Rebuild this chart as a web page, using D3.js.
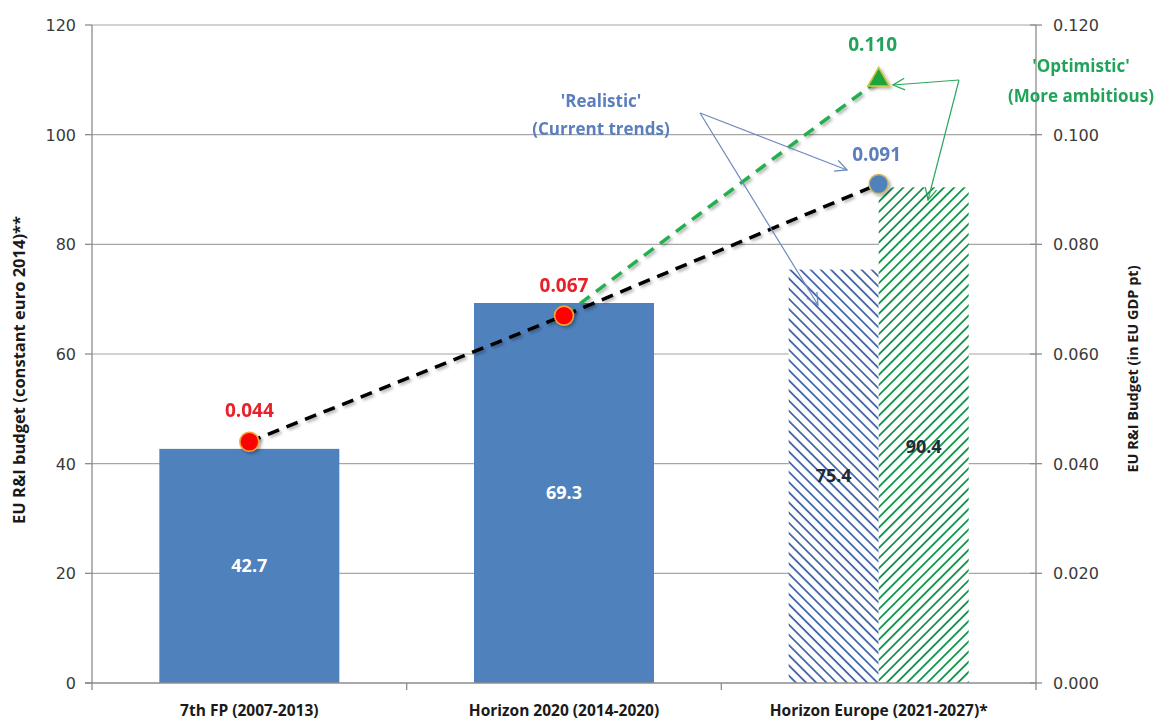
<!DOCTYPE html>
<html><head><meta charset="utf-8">
<script src="https://cdn.jsdelivr.net/npm/d3@7"></script>
<style>body{margin:0;background:#fff}svg{display:block}</style>
</head><body>
<svg id="c" width="1157" height="723"></svg>
<script>
const categories = ["7th FP (2007-2013)", "Horizon 2020 (2014-2020)", "Horizon Europe (2021-2027)*"];
const budgetActual = [42.7, 69.3, null];
const budgetRealistic = [null, null, 75.4];
const budgetOptimistic = [null, null, 90.4];
const gdpRealistic = [0.044, 0.067, 0.091];
const gdpOptimistic = [null, 0.067, 0.110];
const leftTicks = [0, 20, 40, 60, 80, 100, 120];
const rightTicks = [0, 0.02, 0.04, 0.06, 0.08, 0.10, 0.12];

const svg = d3.select("#c");
const L = 92, R = 1036, T = 25, B = 683;
const x = d3.scaleBand().domain(categories).range([L, R]).padding(0);
const yL = d3.scaleLinear().domain([0, 120]).range([B, T]);
const yR = d3.scaleLinear().domain([0, 0.12]).range([B, T]);
const barW = x.bandwidth() * 0.572;
const cx = c => x(c) + x.bandwidth() / 2;

const defs = svg.append("defs");
function hatch(id, color, angle) {
  const p = defs.append("pattern").attr("id", id).attr("patternUnits", "userSpaceOnUse")
    .attr("width", 7.2).attr("height", 7.2).attr("patternTransform", `rotate(${angle})`);
  p.append("rect").attr("width", 7.2).attr("height", 7.2).attr("fill", "#fff");
  p.append("line").attr("x1", 0).attr("y1", 0).attr("x2", 0).attr("y2", 7.2)
    .attr("stroke", color).attr("stroke-width", 3.6);
}
hatch("hb", "#4468ab", -45);
hatch("hg", "#12944a", 45);
const sh = defs.append("filter").attr("id", "sh").attr("x", "-20%").attr("y", "-20%").attr("width", "150%").attr("height", "150%");
sh.append("feDropShadow").attr("dx", 2).attr("dy", 2).attr("stdDeviation", 1.5).attr("flood-color", "#000").attr("flood-opacity", 0.3);
function arrowMarker(id, color) {
  defs.append("marker").attr("id", id).attr("viewBox", "0 0 12 12").attr("refX", 11).attr("refY", 6)
    .attr("markerWidth", 14).attr("markerHeight", 14).attr("markerUnits", "userSpaceOnUse").attr("orient", "auto")
    .append("path").attr("d", "M1,1 L11,6 L1,11").attr("fill", "none").attr("stroke", color).attr("stroke-width", 1.1);
}
arrowMarker("ab", "#6d88bd");
arrowMarker("ag", "#2aa85c");

// gridlines
svg.append("g").selectAll("line").data(leftTicks.filter(d => d > 0)).join("line")
  .attr("x1", L).attr("x2", R).attr("y1", d => yL(d)).attr("y2", d => yL(d))
  .attr("stroke", "#a6a6a6").attr("stroke-width", 1.2);

// bars
const g = svg.append("g");
categories.forEach((c, i) => {
  if (budgetActual[i] != null) {
    g.append("rect").attr("x", cx(c) - barW / 2).attr("width", barW)
      .attr("y", yL(budgetActual[i])).attr("height", yL(0) - yL(budgetActual[i])).attr("fill", "#4f81bd");
    g.append("text").attr("x", cx(c)).attr("y", yL(budgetActual[i] / 2) + 6).attr("text-anchor", "middle")
      .attr("fill", "#fff").attr("font-family", "Open Sans").attr("font-weight", "bold").attr("font-size", 18)
      .text(budgetActual[i].toFixed(1));
  }
  if (budgetRealistic[i] != null) {
    g.append("rect").attr("x", cx(c) - barW / 2).attr("width", barW / 2)
      .attr("y", yL(budgetRealistic[i])).attr("height", yL(0) - yL(budgetRealistic[i])).attr("fill", "url(#hb)");
    g.append("text").attr("x", cx(c) - barW / 4).attr("y", yL(budgetRealistic[i]) + 212).attr("text-anchor", "middle")
      .attr("fill", "#1f2a3a").attr("font-family", "Open Sans").attr("font-weight", "bold").attr("font-size", 18)
      .text(budgetRealistic[i].toFixed(1));
  }
  if (budgetOptimistic[i] != null) {
    g.append("rect").attr("x", cx(c)).attr("width", barW / 2)
      .attr("y", yL(budgetOptimistic[i])).attr("height", yL(0) - yL(budgetOptimistic[i])).attr("fill", "url(#hg)");
    g.append("text").attr("x", cx(c) + barW / 4).attr("y", yL(budgetOptimistic[i]) + 266).attr("text-anchor", "middle")
      .attr("fill", "#1f2a3a").attr("font-family", "Open Sans").attr("font-weight", "bold").attr("font-size", 18)
      .text(budgetOptimistic[i].toFixed(1));
  }
});

// axes
const axCol = "#8c8c8c";
const ax = svg.append("g").attr("font-family", "DejaVu Sans").attr("font-size", 16).attr("fill", "#3a3a3a");
ax.append("line").attr("x1", L).attr("x2", L).attr("y1", T).attr("y2", B).attr("stroke", axCol).attr("stroke-width", 1.3);
ax.append("line").attr("x1", R).attr("x2", R).attr("y1", T).attr("y2", B).attr("stroke", axCol).attr("stroke-width", 1.3);
ax.append("line").attr("x1", L - 7).attr("x2", R).attr("y1", B).attr("y2", B).attr("stroke", axCol).attr("stroke-width", 1.3);
leftTicks.forEach(t => {
  ax.append("line").attr("x1", L - 7).attr("x2", L).attr("y1", yL(t)).attr("y2", yL(t)).attr("stroke", axCol).attr("stroke-width", 1.3);
  ax.append("text").attr("x", 76).attr("y", yL(t) + 6).attr("text-anchor", "end").text(d3.format("d")(t));
});
rightTicks.forEach(t => {
  ax.append("line").attr("x1", R - 6).attr("x2", R + 6).attr("y1", yR(t)).attr("y2", yR(t)).attr("stroke", axCol).attr("stroke-width", 1.3);
  ax.append("text").attr("x", 1053).attr("y", yR(t) + 6).attr("text-anchor", "start").text(d3.format(".3f")(t));
});
[1, 2, 3].forEach(k => {
  const xx = L + k * x.bandwidth();
  ax.append("line").attr("x1", xx).attr("x2", xx).attr("y1", B).attr("y2", B + 7).attr("stroke", axCol).attr("stroke-width", 1.3);
});
ax.append("line").attr("x1", L).attr("x2", L).attr("y1", B).attr("y2", B + 7).attr("stroke", axCol).attr("stroke-width", 1.3);
categories.forEach(c => {
  svg.append("text").attr("x", cx(c)).attr("y", 716).attr("text-anchor", "middle")
    .attr("font-family", "Open Sans").attr("font-weight", "bold").attr("font-size", 15.5).attr("fill", "#1a1a1a").text(c);
});
svg.append("text").attr("transform", `translate(25,${370}) rotate(-90)`).attr("text-anchor", "middle")
  .attr("font-family", "Open Sans").attr("font-weight", "bold").attr("font-size", 16.5).attr("fill", "#1a1a1a")
  .text("EU R&I budget (constant euro 2014)**");
svg.append("text").attr("transform", `translate(1138,${369}) rotate(-90)`).attr("text-anchor", "middle")
  .attr("font-family", "Open Sans").attr("font-weight", "bold").attr("font-size", 14.5).attr("fill", "#1a1a1a")
  .text("EU R&I Budget (in EU GDP pt)");

// lines
const line = d3.line().defined(d => d[1] != null).x(d => cx(d[0])).y(d => yR(d[1]));
svg.append("path").datum(categories.map((c, i) => [c, gdpOptimistic[i]])).attr("d", line)
  .attr("fill", "none").attr("stroke", "#21b04f").attr("stroke-width", 3.5).attr("stroke-dasharray", "12,8").attr("filter", "url(#sh)");
svg.append("path").datum(categories.map((c, i) => [c, gdpRealistic[i]])).attr("d", line)
  .attr("fill", "none").attr("stroke", "#000").attr("stroke-width", 3.5).attr("stroke-dasharray", "12,8").attr("filter", "url(#sh)");

// markers
const mk = svg.append("g").attr("filter", "url(#sh)");
[0, 1].forEach(i => {
  mk.append("circle").attr("cx", cx(categories[i])).attr("cy", yR(gdpRealistic[i])).attr("r", 9.5)
    .attr("fill", "#ff0000").attr("stroke", "#f3a13a").attr("stroke-width", 1.6);
});
mk.append("circle").attr("cx", cx(categories[2])).attr("cy", yR(gdpRealistic[2])).attr("r", 9.5)
  .attr("fill", "#4f81bd").attr("stroke", "#c9b56a").attr("stroke-width", 1.6);
mk.append("path").attr("transform", `translate(${cx(categories[2])},${yR(gdpOptimistic[2])})`)
  .attr("d", d3.symbol().type(d3.symbolTriangle).size(200)).attr("fill", "#1ea53e").attr("stroke", "#d2c53c").attr("stroke-width", 1.6);

// value labels
const vl = svg.append("g").attr("font-family", "Open Sans").attr("font-weight", "bold").attr("font-size", 19).attr("text-anchor", "middle");
vl.append("text").attr("x", cx(categories[0])).attr("y", yR(gdpRealistic[0]) - 25).attr("fill", "#e8202a").text(d3.format(".3f")(gdpRealistic[0]));
vl.append("text").attr("x", cx(categories[1])).attr("y", yR(gdpRealistic[1]) - 24).attr("fill", "#e8202a").text(d3.format(".3f")(gdpRealistic[1]));
vl.append("text").attr("x", cx(categories[2]) - 2).attr("y", yR(gdpRealistic[2]) - 23).attr("fill", "#5b7fbd").text(d3.format(".3f")(gdpRealistic[2]));
vl.append("text").attr("x", cx(categories[2]) - 6).attr("y", yR(gdpOptimistic[2]) - 29).attr("fill", "#21a35a").text(d3.format(".3f")(gdpOptimistic[2]));

// annotations
const an = svg.append("g").attr("font-family", "Open Sans").attr("font-weight", "bold").attr("font-size", 17).attr("text-anchor", "middle");
an.append("text").attr("x", 601).attr("y", 107).attr("fill", "#5b7fbd").text("'Realistic'");
an.append("text").attr("x", 601).attr("y", 135).attr("fill", "#5b7fbd").text("(Current trends)");
an.append("text").attr("x", 1081).attr("y", 72).attr("fill", "#21a35a").text("'Optimistic'");
an.append("text").attr("x", 1081).attr("y", 102).attr("fill", "#21a35a").text("(More ambitious)");
const ar = svg.append("g").attr("fill", "none").attr("stroke-width", 1.2);
ar.append("path").attr("d", "M700,113 L847,170").attr("stroke", "#6d88bd").attr("marker-end", "url(#ab)");
ar.append("path").attr("d", "M700,113 L818,305").attr("stroke", "#6d88bd").attr("marker-end", "url(#ab)");
ar.append("path").attr("d", "M959,80 L893,85").attr("stroke", "#2aa85c").attr("marker-end", "url(#ag)");
ar.append("path").attr("d", "M959,80 L928,200").attr("stroke", "#2aa85c").attr("marker-end", "url(#ag)");
</script>
</body></html>
